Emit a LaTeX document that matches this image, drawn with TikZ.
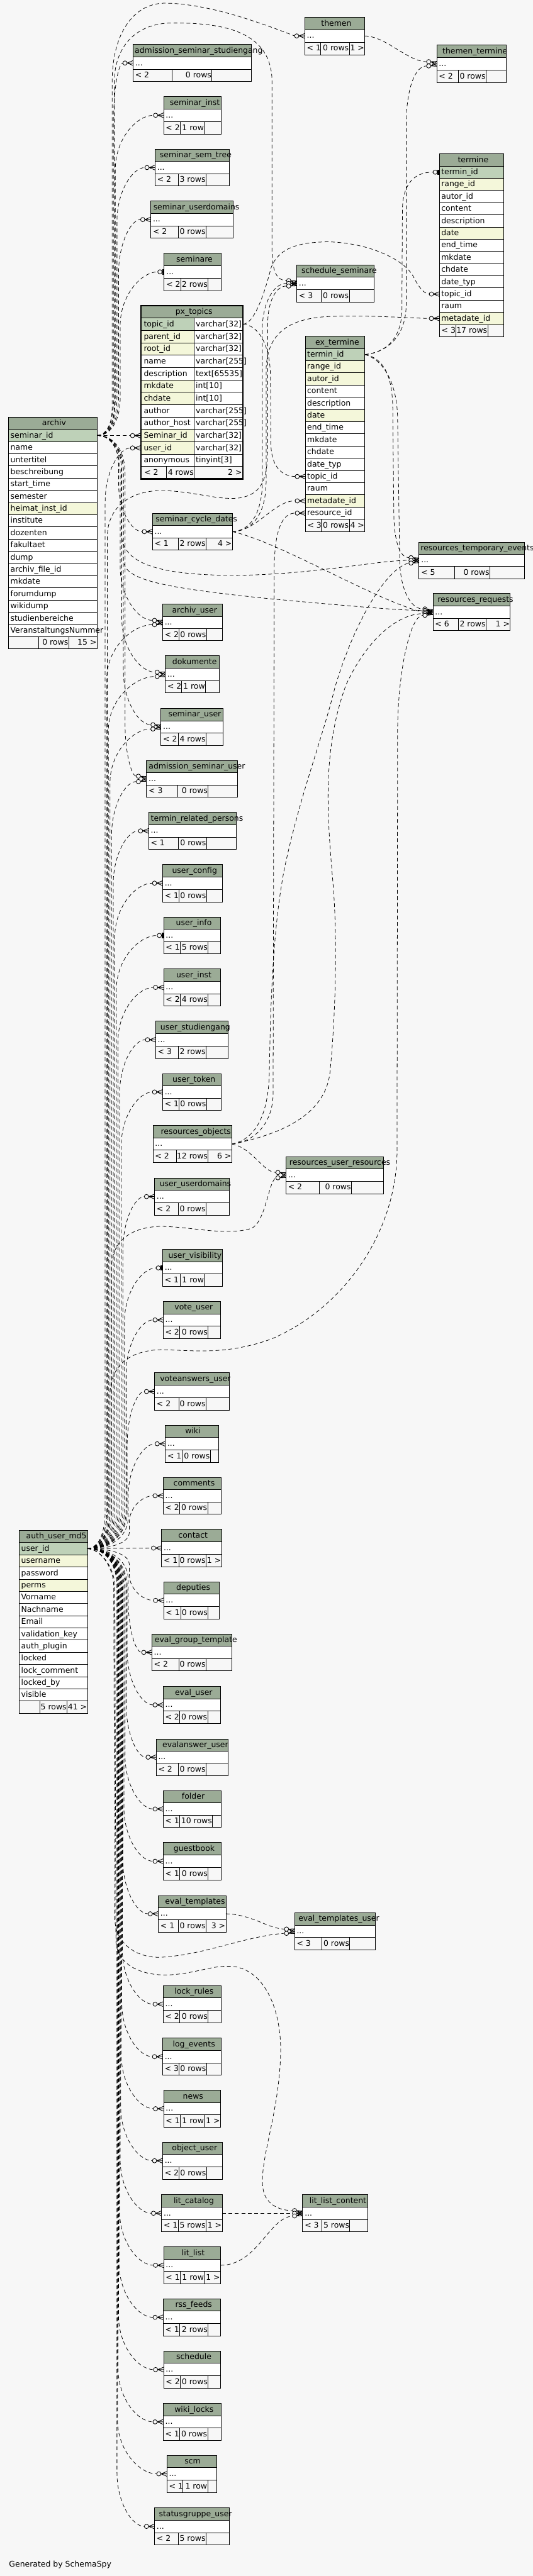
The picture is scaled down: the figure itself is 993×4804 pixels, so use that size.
\documentclass[tikz,border=0pt]{standalone}
\usepackage{fontspec}
\setmainfont{DejaVu Sans}
\usetikzlibrary{calc}
\definecolor{bgc}{HTML}{F7F7F7}
\definecolor{hdrc}{HTML}{9BAB96}
\definecolor{pkc}{HTML}{BED1B8}
\definecolor{fkc}{HTML}{F4F7DA}
\newcommand\tfont{\fontsize{14.6}{17}\selectfont}
\tikzset{
  tl/.style={draw=black,line width=1pt},
  txt/.style={inner sep=0pt,outer sep=0pt,font=\tfont,text=black},
  rel/.style={draw=black,line width=0.9pt,dash pattern=on 7pt off 5pt},
  mk/.style={draw=black,line width=1pt,solid},
}
\newcommand\ttl[4]{%
  \node[txt,anchor=base] (#1) at (#2,#3+4.5) {\makebox[1.1\width][r]{#4}};%
}
\def\splitfoot#1/#2/#3\relax{\def\fa{#1}\def\fb{#2}\def\fc{#3}}
\newcommand\stab[9]{%
  \splitfoot#9\relax
  \pgfmathsetmacro\thh{(#6-#5)/3}%
  \pgfmathsetmacro\tya{#5+\thh}%
  \pgfmathsetmacro\tyb{#5+2*\thh}%
  \pgfmathsetmacro\txc{(#3+#4)/2}%
  \filldraw[tl,fill=hdrc] (#3,#5) rectangle (#4,\tya);
  \filldraw[tl,fill=white] (#3,\tya) rectangle (#4,\tyb);
  \filldraw[tl,fill=bgc] (#3,\tyb) rectangle (#4,#6);
  \draw[tl] (#7,\tyb) -- (#7,#6) (#8,\tyb) -- (#8,#6);
  \ttl{#1-t}{\txc}{#5+0.5*\thh}{#2}%
  \node[txt,anchor=base west] (#1-b) at (#3+4,\tya+0.5*\thh+4.5) {...};
  \node[txt,anchor=base west] (#1-f1) at (#3+4,\tyb+0.5*\thh+4.5) {\fa};
  \node[txt,anchor=base east] (#1-f2) at (#8-1,\tyb+0.5*\thh+4.5) {\fb};
  \node[txt,anchor=base east] (#1-f3) at (#4-1,\tyb+0.5*\thh+4.5) {\fc};
  \coordinate (#1-L) at (#3,\tya+0.5*\thh);
  \coordinate (#1-R) at (#4,\tya+0.5*\thh);
}
\newcommand\btab[8]{%
  \def\bxa{#3}\def\bxb{#4}\def\byb{#6}\def\bnm{#1}%
  \pgfmathsetmacro\thh{(#6-#5)/(#7+2)}%
  \pgfmathsetmacro\txc{(#3+#4)/2}%
  \pgfmathsetmacro\tya{#5+\thh}%
  \filldraw[tl,fill=hdrc] (#3,#5) rectangle (#4,\tya);
  \ttl{#1-t}{\txc}{#5+0.5*\thh}{#2}%
  \foreach \tx/\kc [count=\i] in {#8} {
    \pgfmathsetmacro\tyr{#5+\i*\thh}
    \filldraw[tl,fill=\kc] (#3,\tyr) rectangle (#4,\tyr+\thh);
    \node[txt,anchor=base west] (#1-r\i) at (#3+3.5,\tyr+0.5*\thh+4.5) {\tx};
  }
  \pgfmathsetmacro\tyf{#5+(#7+1)*\thh}%
}
\newcommand\bfoot[3]{%
  \splitfoot#3\relax
  \filldraw[tl,fill=bgc] (\bxa,\tyf) rectangle (\bxb,\byb);
  \draw[tl] (#1,\tyf) -- (#1,\byb) (#2,\tyf) -- (#2,\byb);
  \node[txt,anchor=base west] (\bnm-f1) at (\bxa+4,\tyf+0.5*\thh+4.5) {\fa};
  \node[txt,anchor=base east] (\bnm-f2) at (#2-1,\tyf+0.5*\thh+4.5) {\fb};
  \node[txt,anchor=base east] (\bnm-f3) at (\bxb-1,\tyf+0.5*\thh+4.5) {\fc};
}
\newcommand\mk[4]{%
  \if#4t%
    \coordinate (#1-#2) at ($(#1)+(-12,#3)$);
    \draw[mk,fill=bgc] ($(#1)+(-8,#3)$) circle[radius=4];
    \fill[black] ($(#1)+(-3.5,-5)$) rectangle ($(#1)+(-0.5,5)$);
  \else
    \coordinate (#1-#2) at ($(#1)+(-19,#3)$);
    \draw[mk,fill=bgc] ($(#1)+(-15,#3)$) circle[radius=4];
    \draw[mk] ($(#1)+(-11,#3)$) -- ($(#1)+(0,-4.5)$) ($(#1)+(-11,#3)$) -- ($(#1)+(0,0)$) ($(#1)+(-11,#3)$) -- ($(#1)+(0,4.5)$);
  \fi
}
\newcommand\bedge[3]{%
  \draw[rel] let \p1=(#1), \p2=(#2),
    \n1={sign((\y2)-(\y1))}, \n2={min(70,0.3*abs((\y2)-(\y1)))}, \n3={min(100,0.5*abs((\y2)-(\y1)))} in
    (\p1) .. controls ({\x1+0.7*(#3pt-\x1)},\y1) and (#3pt,{\y1+(\n1)*0.5*(\n2)*1pt}) .. (#3pt,{\y1+(\n1)*(\n2)*1pt})
    -- (#3pt,{\y2-(\n1)*(\n3)*1pt})
    .. controls (#3pt,{\y2-(\n1)*0.45*(\n3)*1pt}) and ({\x2-0.45*(\x2-#3pt)},\y2) .. (\p2);
}
\begin{document}
\begin{tikzpicture}[x=1pt,y=-1pt]
\useasboundingbox (0,0) rectangle (993,4804);
\fill[bgc] (0,0) rectangle (993,4804);

% ---------- small tables ----------
\stab{themen}{themen}{568}{680}{32}{102}{598}{651}{< 1/0 rows/1 >}
\stab{adss}{admission\_seminar\_studiengang}{248}{469}{83}{152}{321}{395}{< 2/0 rows/}
\stab{tt}{themen\_termine}{814}{944}{84}{154}{854}{906}{< 2/0 rows/}
\stab{sinst}{seminar\_inst}{305}{412}{180}{250}{336}{381}{< 2/1 row/}
\stab{ssemtree}{seminar\_sem\_tree}{289}{427}{278}{347}{332}{384}{< 2/3 rows/}
\stab{sud}{seminar\_userdomains}{281}{435}{375}{444}{332}{384}{< 2/0 rows/}
\stab{seminare}{seminare}{306}{412}{472}{542}{337}{388}{< 2/2 rows/}
\stab{ssched}{schedule\_seminare}{553}{697}{494}{563}{599}{651}{< 3/0 rows/}
\stab{scd}{seminar\_cycle\_dates}{284}{433}{957}{1026}{332}{384}{< 1/2 rows/4 >}
\stab{rte}{resources\_temporary\_events}{781}{977}{1011}{1079}{847}{913}{< 5/0 rows/}
\stab{rreq}{resources\_requests}{807}{951}{1107}{1176}{854}{906}{< 6/2 rows/1 >}
\stab{archu}{archiv\_user}{303}{414}{1127}{1195}{334}{385}{< 2/0 rows/}
\stab{doku}{dokumente}{308}{409}{1223}{1292}{338}{383}{< 2/1 row/}
\stab{semu}{seminar\_user}{300}{416}{1321}{1390}{332}{384}{< 2/4 rows/}
\stab{admsu}{admission\_seminar\_user}{273}{443}{1418}{1487}{331}{388}{< 3/0 rows/}
\stab{trp}{termin\_related\_persons}{277}{440}{1515}{1584}{332}{385}{< 1/0 rows/}
\stab{ucfg}{user\_config}{303}{414}{1612}{1682}{334}{385}{< 1/0 rows/}
\stab{uinfo}{user\_info}{305}{411}{1710}{1779}{336}{388}{< 1/5 rows/}
\stab{uinst}{user\_inst}{305}{411}{1807}{1876}{336}{388}{< 2/4 rows/}
\stab{ustud}{user\_studiengang}{290}{425}{1904}{1974}{332}{384}{< 3/2 rows/}
\stab{utok}{user\_token}{303}{412}{2002}{2071}{334}{385}{< 1/0 rows/}
\stab{robj}{resources\_objects}{285}{432}{2099}{2168}{329}{388}{< 2/12 rows/6 >}
\stab{rur}{resources\_user\_resources}{533}{715}{2157}{2226}{595}{655}{< 2/0 rows/}
\stab{uud}{user\_userdomains}{288}{427}{2197}{2266}{332}{384}{< 2/0 rows/}
\stab{uvis}{user\_visibility}{303}{414}{2330}{2399}{336}{381}{< 1/1 row/}
\stab{vote}{vote\_user}{304}{411}{2427}{2496}{335}{388}{< 2/0 rows/}
\stab{voteans}{voteanswers\_user}{288}{427}{2560}{2630}{333}{384}{< 2/0 rows/}
\stab{wiki}{wiki}{308}{408}{2658}{2727}{340}{392}{< 1/0 rows/}
\stab{comm}{comments}{304}{412}{2755}{2824}{335}{387}{< 2/0 rows/}
\stab{cont}{contact}{301}{413}{2852}{2922}{333}{384}{< 1/0 rows/1 >}
\stab{dep}{deputies}{305}{409}{2950}{3019}{337}{388}{< 1/0 rows/}
\stab{egt}{eval\_group\_template}{283}{432}{3047}{3116}{333}{384}{< 2/0 rows/}
\stab{eu}{eval\_user}{304}{411}{3145}{3214}{335}{387}{< 2/0 rows/}
\stab{eau}{evalanswer\_user}{291}{425}{3243}{3311}{332}{384}{< 2/0 rows/}
\stab{fold}{folder}{304}{412}{3339}{3408}{335}{396}{< 1/10 rows/}
\stab{gb}{guestbook}{304}{412}{3436}{3506}{335}{388}{< 1/0 rows/}
\stab{et}{eval\_templates}{295}{421}{3535}{3603}{332}{384}{< 1/0 rows/3 >}
\stab{etu}{eval\_templates\_user}{549}{699}{3567}{3636}{600}{652}{< 3/0 rows/}
\stab{lockr}{lock\_rules}{304}{412}{3703}{3772}{335}{388}{< 2/0 rows/}
\stab{loge}{log\_events}{303}{412}{3801}{3870}{334}{385}{< 3/0 rows/}
\stab{news}{news}{305}{411}{3898}{3967}{336}{381}{< 1/1 row/1 >}
\stab{obju}{object\_user}{303}{414}{3995}{4064}{334}{385}{< 2/0 rows/}
\stab{litc}{lit\_catalog}{301}{414}{4093}{4162}{332}{384}{< 1/5 rows/1 >}
\stab{llc}{lit\_list\_content}{564}{685}{4093}{4162}{600}{652}{< 3/5 rows/}
\stab{litl}{lit\_list}{305}{411}{4190}{4259}{336}{381}{< 1/1 row/1 >}
\stab{rss}{rss\_feeds}{304}{411}{4287}{4356}{335}{388}{< 1/2 rows/}
\stab{sched}{schedule}{305}{411}{4384}{4454}{336}{388}{< 2/0 rows/}
\stab{wlock}{wiki\_locks}{304}{412}{4482}{4551}{335}{387}{< 1/0 rows/}
\stab{scm}{scm}{311}{404}{4579}{4648}{341}{387}{< 1/1 row/}
\stab{sgu}{statusgruppe\_user}{288}{427}{4677}{4746}{332}{384}{< 2/5 rows/}

% ---------- big tables ----------
\btab{termine}{termine}{819}{939}{287}{628}{13}{termin\_id/pkc,range\_id/fkc,autor\_id/white,content/white,description/white,date/fkc,end\_time/white,mkdate/white,chdate/white,date\_typ/white,topic\_id/white,raum/white,metadate\_id/fkc}
\bfoot{850}{909}{< 3/17 rows/}
\btab{ext}{ex\_termine}{569}{680}{627}{991}{14}{termin\_id/pkc,range\_id/fkc,autor\_id/fkc,content/white,description/white,date/fkc,end\_time/white,mkdate/white,chdate/white,date\_typ/white,topic\_id/white,raum/white,metadate\_id/fkc,resource\_id/white}
\bfoot{599}{651}{< 3/0 rows/4 >}
\btab{archiv}{archiv}{16}{181}{778}{1210}{17}{seminar\_id/pkc,name/white,untertitel/white,beschreibung/white,start\_time/white,semester/white,heimat\_inst\_id/fkc,institute/white,dozenten/white,fakultaet/white,dump/white,archiv\_file\_id/white,mkdate/white,forumdump/white,wikidump/white,studienbereiche/white,VeranstaltungsNummer/white}
\bfoot{72}{128}{/0 rows/15 >}
\btab{aum}{auth\_user\_md5}{36}{163}{2854}{3195}{13}{user\_id/pkc,username/fkc,password/white,perms/fkc,Vorname/white,Nachname/white,Email/white,validation\_key/white,auth\_plugin/white,locked/white,lock\_comment/white,locked\_by/white,visible/white}
\bfoot{74}{125}{/5 rows/41 >}

% px_topics
\pgfmathsetmacro\thh{323/14}
\filldraw[tl,fill=hdrc] (263,570) rectangle (453,570+\thh);
\ttl{px-t}{358}{570+0.5*\thh}{px\_topics}
\foreach \tx/\ty/\kc [count=\i] in {topic\_id/varchar[32]/pkc,parent\_id/varchar[32]/fkc,root\_id/varchar[32]/fkc,name/varchar[255]/white,description/text[65535]/white,mkdate/int[10]/fkc,chdate/int[10]/fkc,author/varchar[255]/white,author\_host/varchar[255]/white,Seminar\_id/varchar[32]/fkc,user\_id/varchar[32]/fkc,anonymous/tinyint[3]/white} {
  \pgfmathsetmacro\tyr{570+\i*\thh}
  \filldraw[tl,fill=\kc] (263,\tyr) rectangle (362,\tyr+\thh);
  \filldraw[tl,fill=white] (362,\tyr) rectangle (453,\tyr+\thh);
  \node[txt,anchor=base west] (px-n\i) at (268,\tyr+0.5*\thh+4.5) {\tx};
  \node[txt,anchor=base west] (px-y\i) at (365,\tyr+0.5*\thh+4.5) {\ty};
}
\pgfmathsetmacro\tyf{570+13*\thh}
\filldraw[tl,fill=bgc] (263,\tyf) rectangle (453,893);
\draw[tl] (310,\tyf) -- (310,893) (362,\tyf) -- (362,893);
\node[txt,anchor=base west] (px-f1) at (269,\tyf+0.5*\thh+4.5) {< 2};
\node[txt,anchor=base east] (px-f2) at (361,\tyf+0.5*\thh+4.5) {4 rows};
\node[txt,anchor=base east] (px-f3) at (451,\tyf+0.5*\thh+4.5) {2 >};
\draw[line width=2.6pt] (263,570) rectangle (453,893);

% ---------- ports ----------
\coordinate (A) at (181,812.1);
\coordinate (U) at (163,2888.1);
\coordinate (P) at (453,604.6);
\coordinate (pxS) at (262,812.3);
\coordinate (pxU) at (262,835.4);
\coordinate (E) at (680,661.1);
\coordinate (exT) at (569,888.6);
\coordinate (exM) at (569,934.1);
\coordinate (exR) at (569,956.9);
\coordinate (tmI) at (819,321.1);
\coordinate (tmT) at (819,548.4);
\coordinate (tmM) at (819,593.9);

% ---------- markers ----------
\mk{adss-L}{a}{0}{c}
\mk{sinst-L}{a}{0}{c}
\mk{ssemtree-L}{a}{0}{c}
\mk{sud-L}{a}{0}{c}
\mk{seminare-L}{a}{0}{t}
\mk{pxS}{a}{0}{c}
\mk{pxU}{u}{0}{c}
\mk{scd-L}{a}{0}{c}
\mk{archu-L}{a}{-4}{c}\mk{archu-L}{u}{4}{c}
\mk{doku-L}{a}{-4}{c}\mk{doku-L}{u}{4}{c}
\mk{semu-L}{a}{-4}{c}\mk{semu-L}{u}{4}{c}
\mk{admsu-L}{a}{-5}{c}\mk{admsu-L}{u}{5}{c}
\mk{themen-L}{a}{0}{c}
\mk{ssched-L}{a}{-5}{c}\mk{ssched-L}{s}{0}{c}\mk{ssched-L}{u}{5}{c}
\mk{rte-L}{e}{-5}{c}\mk{rte-L}{a}{0}{c}\mk{rte-L}{r}{5}{c}
\mk{rreq-L}{e}{-6}{c}\mk{rreq-L}{a}{-3}{c}\mk{rreq-L}{s}{0}{c}\mk{rreq-L}{r}{3}{c}\mk{rreq-L}{u}{6}{c}
\mk{tmI}{e}{0}{t}
\mk{tmT}{p}{0}{c}
\mk{tmM}{s}{0}{c}
\mk{exT}{p}{0}{c}
\mk{exM}{s}{0}{c}
\mk{exR}{r}{0}{c}
\mk{tt-L}{t}{-4}{c}\mk{tt-L}{e}{4}{c}
\mk{rur-L}{r}{-5}{c}\mk{rur-L}{u}{5}{c}
\mk{etu-L}{e}{-4}{c}\mk{etu-L}{u}{4}{c}
\mk{llc-L}{u}{-5}{c}\mk{llc-L}{c}{0}{c}\mk{llc-L}{l}{5}{c}
\mk{trp-L}{u}{0}{c}
\mk{ucfg-L}{u}{0}{c}
\mk{uinfo-L}{u}{0}{t}
\mk{uinst-L}{u}{0}{c}
\mk{ustud-L}{u}{0}{c}
\mk{utok-L}{u}{0}{c}
\mk{uud-L}{u}{0}{c}
\mk{uvis-L}{u}{0}{t}
\mk{vote-L}{u}{0}{c}
\mk{voteans-L}{u}{0}{c}
\mk{wiki-L}{u}{0}{c}
\mk{comm-L}{u}{0}{c}
\mk{cont-L}{u}{0}{c}
\mk{dep-L}{u}{0}{c}
\mk{egt-L}{u}{0}{c}
\mk{eu-L}{u}{0}{c}
\mk{eau-L}{u}{0}{c}
\mk{fold-L}{u}{0}{c}
\mk{gb-L}{u}{0}{c}
\mk{et-L}{u}{0}{c}
\mk{lockr-L}{u}{0}{c}
\mk{loge-L}{u}{0}{c}
\mk{news-L}{u}{0}{c}
\mk{obju-L}{u}{0}{c}
\mk{litc-L}{u}{0}{c}
\mk{litl-L}{u}{0}{c}
\mk{rss-L}{u}{0}{c}
\mk{sched-L}{u}{0}{c}
\mk{wlock-L}{u}{0}{c}
\mk{scm-L}{u}{0}{c}
\mk{sgu-L}{u}{0}{c}

% ---------- edges from archiv ----------
\bedge{A}{adss-L-a}{212}
\bedge{A}{sinst-L-a}{215}
\bedge{A}{ssemtree-L-a}{218}
\bedge{A}{sud-L-a}{221}
\bedge{A}{seminare-L-a}{224}
\draw[rel] (A) -- (pxS-a);
\bedge{A}{scd-L-a}{221}
\bedge{A}{archu-L-a}{224}
\bedge{A}{doku-L-a}{227}
\bedge{A}{semu-L-a}{230}
\bedge{A}{admsu-L-a}{233}
\draw[rel] (A) .. controls (200,812) and (209,790) .. (209,760) -- (209,150) .. controls (210,60) and (250,8) .. (304,6) .. controls (380,5) and (480,40) .. (themen-L-a);
\draw[rel] (A) .. controls (203,812) and (213,790) .. (213,760) -- (213,150) .. controls (215,80) and (260,43) .. (320,43) .. controls (420,42) and (505,60) .. (507,150) -- (507,470) .. controls (508,505) and (515,523) .. (ssched-L-a);
\draw[rel] (A) .. controls (208,812) and (226,835) .. (226,870) -- (226,995) .. controls (228,1050) and (290,1073) .. (443,1073) .. controls (600,1070) and (700,1045) .. (rte-L-a);
\draw[rel] (A) .. controls (210,812) and (230,840) .. (230,880) -- (230,1045) .. controls (232,1080) and (290,1095) .. (507,1117) .. controls (650,1130) and (740,1138) .. (rreq-L-a);

% ---------- edges from px_topics, cycle dates, ex_termine, themen ----------
\draw[rel] (P) .. controls (475,604) and (495,540) .. (505,500) .. controls (520,460) and (560,452) .. (610,451) .. controls (680,452) and (750,480) .. (770,515) .. controls (780,535) and (790,548) .. (tmT-p);
\draw[rel] (P) .. controls (480,606) and (503,640) .. (504,700) -- (505,830) .. controls (506,870) and (525,888) .. (exT-p);
\draw[rel] (scd-R) .. controls (480,990) and (510,934) .. (exM-s);
\draw[rel] (scd-R) .. controls (470,990) and (495,960) .. (496,900) -- (496,690) .. controls (497,620) and (540,592) .. (620,590) .. controls (700,588) and (760,593) .. (tmM-s);
\draw[rel] (scd-R) .. controls (465,990) and (488,960) .. (489,900) -- (489,610) .. controls (490,565) and (510,528) .. (ssched-L-s);
\draw[rel] (scd-R) .. controls (520,1010) and (700,1120) .. (rreq-L-s);
\draw[rel] (E) .. controls (720,658) and (748,630) .. (749,580) -- (750,390) .. controls (751,345) and (770,321) .. (tmI-e);
\draw[rel] (E) .. controls (725,656) and (756,625) .. (757,570) -- (757,230) .. controls (758,160) and (775,123) .. (tt-L-e);
\draw[rel] (themen-R) .. controls (720,68) and (760,115) .. (tt-L-t);
\draw[rel] (E) .. controls (715,668) and (731,700) .. (732,760) -- (734,960) .. controls (735,1010) and (745,1040) .. (rte-L-e);
\draw[rel] (E) .. controls (712,670) and (740,710) .. (741,780) -- (745,1050) .. controls (748,1110) and (770,1136) .. (rreq-L-e);

% ---------- edges from resources_objects ----------
\draw[rel] (robj-R) .. controls (470,2140) and (490,2186) .. (rur-L-r);
\draw[rel] (robj-R) .. controls (470,2130) and (508,2100) .. (509,2040) -- (511,1060) .. controls (512,990) and (525,957) .. (exR-r);
\draw[rel] (robj-R) .. controls (470,2126) and (500,2090) .. (502,2000) .. controls (505,1800) and (515,1700) .. (530,1620) .. controls (560,1480) and (600,1380) .. (624,1283) .. controls (660,1160) and (720,1060) .. (rte-L-r);
\draw[rel] (robj-R) .. controls (500,2120) and (605,2090) .. (615,2000) .. controls (625,1900) and (630,1750) .. (620,1640) .. controls (610,1520) and (600,1400) .. (645,1277) .. controls (690,1180) and (750,1144) .. (rreq-L-r);

% ---------- other small parents ----------
\draw[rel] (et-R) .. controls (470,3570) and (500,3597) .. (etu-L-e);
\draw[rel] (litc-R) -- (llc-L-c);
\draw[rel] (litl-R) .. controls (480,4224) and (500,4137) .. (llc-L-l);

% ---------- edges from auth_user_md5 ----------
\bedge{U}{pxU-u}{196}
\bedge{U}{archu-L-u}{199}
\bedge{U}{doku-L-u}{202}
\bedge{U}{semu-L-u}{205}
\bedge{U}{admsu-L-u}{208}
\bedge{U}{trp-L-u}{211}
\bedge{U}{ucfg-L-u}{214}
\bedge{U}{uinfo-L-u}{217}
\bedge{U}{uinst-L-u}{220}
\bedge{U}{ustud-L-u}{223}
\bedge{U}{utok-L-u}{226}
\bedge{U}{uud-L-u}{229}
\bedge{U}{uvis-L-u}{232}
\bedge{U}{vote-L-u}{235}
\bedge{U}{voteans-L-u}{237}
\bedge{U}{wiki-L-u}{239}
\bedge{U}{comm-L-u}{241}
\draw[rel] (U) -- (cont-L-u);
\bedge{U}{dep-L-u}{241}
\bedge{U}{egt-L-u}{239}
\bedge{U}{eu-L-u}{237}
\bedge{U}{eau-L-u}{235}
\bedge{U}{fold-L-u}{233}
\bedge{U}{gb-L-u}{231}
\bedge{U}{et-L-u}{229}
\bedge{U}{lockr-L-u}{228}
\bedge{U}{loge-L-u}{227}
\bedge{U}{news-L-u}{226}
\bedge{U}{obju-L-u}{225}
\bedge{U}{litc-L-u}{224}
\bedge{U}{litl-L-u}{223}
\bedge{U}{rss-L-u}{222}
\bedge{U}{sched-L-u}{221}
\bedge{U}{wlock-L-u}{220}
\bedge{U}{scm-L-u}{219}
\bedge{U}{sgu-L-u}{218}
\draw[rel] (U) .. controls (180,2888) and (200,2860) .. (200,2820) -- (200,1000) .. controls (201,940) and (250,915) .. (300,915) .. controls (360,915) and (410,935) .. (450,928) .. controls (490,920) and (498,890) .. (499,840) -- (499,600) .. controls (500,560) and (515,533) .. (ssched-L-u);
\draw[rel] (U) .. controls (185,2888) and (205,2860) .. (205,2820) -- (205,2600) .. controls (206,2540) and (250,2518) .. (300,2517) .. controls (360,2518) and (420,2528) .. (506,2497) .. controls (640,2440) and (738,2300) .. (740,2150) -- (741,1360) .. controls (742,1250) and (765,1147) .. (rreq-L-u);
\draw[rel] (U) .. controls (185,2888) and (208,2860) .. (208,2820) -- (208,2360) .. controls (210,2310) and (250,2288) .. (300,2287) .. controls (360,2288) and (420,2305) .. (468,2291) .. controls (495,2280) and (500,2205) .. (rur-L-u);
\draw[rel] (U) .. controls (185,2888) and (212,2920) .. (212,2960) -- (214,3580) .. controls (216,3625) and (255,3652) .. (300,3650) .. controls (380,3646) and (460,3610) .. (etu-L-u);
\draw[rel] (U) .. controls (185,2888) and (214,2920) .. (214,2960) -- (216,3620) .. controls (218,3665) and (265,3685) .. (315,3683) .. controls (370,3680) and (400,3662) .. (440,3668) .. controls (500,3680) and (525,3760) .. (523,3830) .. controls (520,3950) and (478,4040) .. (492,4090) .. controls (500,4112) and (520,4122) .. (llc-L-u);

\node[txt,anchor=base west] (gen) at (17,4787) {Generated by SchemaSpy};
\end{tikzpicture}
\end{document}
